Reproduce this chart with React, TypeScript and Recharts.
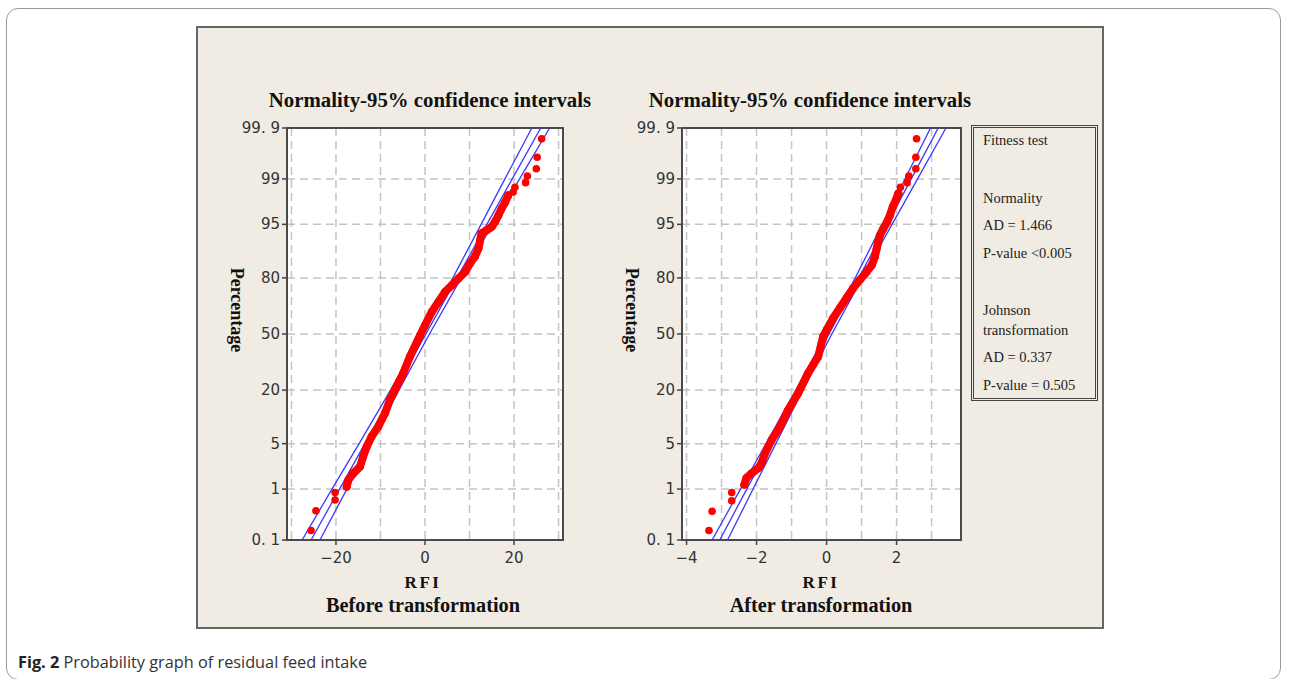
import {
  CartesianGrid,
  ReferenceArea,
  Scatter,
  ScatterChart,
  XAxis,
  YAxis,
} from "recharts";

// probability axis (percent)
const probTicks = [0.1, 1, 5, 20, 50, 80, 95, 99, 99.9];

// x axis grid / labels
const beforeGrid = [-30, -20, -10, 0, 10, 20, 30];
const beforeLabels = [-20, 0, 20];
const afterGrid = [-4, -3, -2, -1, 0, 1, 2, 3];
const afterLabels = [-4, -2, 0, 2];

const beforeRfi = [
  -25.6, -24.5, -20.2, -20.2, -17.6, -17.2, -16.1, -14.6, -13.9, -13.1, -12.0,
  -10.5, -9.0, -7.9, -6.4, -4.9, -3.4, -1.1, 0.0, 1.5, 3.0, 4.5, 6.0, 7.5, 9.0,
  10.1, 11.2, 12.0, 12.4, 12.7, 13.9, 15.0, 15.7, 16.5, 17.2, 18.0, 18.7, 19.8,
  20.2, 22.6, 23.0, 25.0, 25.2, 26.2,
];
const beforePct = [
  0.16, 0.4, 0.64, 0.87, 1.1, 1.43, 1.83, 2.33, 3.29, 4.55, 6.2, 8.2, 11.7, 16.1,
  21.5, 27.8, 36.7, 49.2, 55.2, 62.9, 68.4, 73.6, 76.7, 79.7, 82.4, 85.5, 87.7,
  89.97, 92.07, 93.45, 94.06, 94.6, 95.35, 96.25, 97.0, 97.6, 98.12, 98.34,
  98.61, 98.84, 99.11, 99.34, 99.6, 99.83,
];

const afterRfi = [
  -3.36, -3.27, -2.71, -2.71, -2.35, -2.29, -2.14, -1.95, -1.86, -1.76, -1.57,
  -1.33, -1.1, -0.81, -0.53, -0.24, -0.1, 0.0, 0.19, 0.38, 0.57, 0.76, 0.95,
  1.14, 1.29, 1.38, 1.43, 1.47, 1.52, 1.62, 1.73, 1.81, 1.89, 1.98, 2.05, 2.11,
  2.3, 2.35, 2.55, 2.55, 2.57,
];
const afterPct = [
  0.16, 0.39, 0.62, 0.87, 1.19, 1.54, 1.83, 2.22, 2.62, 3.67, 5.6, 8.2, 12.7,
  18.7, 27.8, 36.7, 48.4, 52.4, 59.5, 65.2, 70.5, 75.5, 79.1, 82.4, 84.85, 87.7,
  89.97, 91.6, 93.0, 94.3, 95.35, 96.25, 97.19, 97.78, 98.26, 98.61, 98.84,
  99.11, 99.34, 99.6, 99.83,
];

// fitted line and 95% band, read at each probTicks level
const beforeFit = [-25.6, -19.2, -13.5, -6.8, 0.2, 7.2, 13.9, 19.6, 26.0];
const beforeLow = [-27.6, -20.9, -14.8, -7.75, -0.6, 6.25, 12.6, 17.95, 24.0];
const beforeHigh = [-23.6, -17.55, -12.2, -5.85, 1.0, 8.15, 15.2, 21.25, 28.0];

const afterFit = [-3.05, -2.28, -1.59, -0.78, 0.07, 0.92, 1.73, 2.42, 3.19];
const afterLow = [-3.27, -2.46, -1.73, -0.88, -0.01, 0.82, 1.59, 2.24, 2.97];
const afterHigh = [-2.83, -2.1, -1.45, -0.68, 0.15, 1.02, 1.87, 2.6, 3.41];

const BLUE = "#3a3aff";
const RED = "#ff0000";
const SERIF = '"Liberation Serif", "Times New Roman", serif';
const TICK_FONT = '"DejaVu Sans", sans-serif';
const BG = "#f0ece3";

// inverse normal cdf (Acklam) - turns percent into the probit axis position
function probit(p: number) {
  const a = [-39.69683028665376, 220.9460984245205, -275.9285104469687, 138.357751867269, -30.66479806614716, 2.506628277459239];
  const b = [-54.47609879822406, 161.5858368580409, -155.6989798598866, 66.80131188771972, -13.28068155288572];
  const c = [-0.007784894002430293, -0.3223964580411365, -2.400758277161838, -2.549671010013197, 4.374664141464968, 2.938163982698783];
  const d = [0.007784695709041462, 0.3224671290700398, 2.445134137142996, 3.754408661907416];
  const pl = 0.02425;
  if (p < pl) {
    const q = Math.sqrt(-2 * Math.log(p));
    return (((((c[0] * q + c[1]) * q + c[2]) * q + c[3]) * q + c[4]) * q + c[5]) /
      ((((d[0] * q + d[1]) * q + d[2]) * q + d[3]) * q + 1);
  }
  if (p > 1 - pl) {
    const q = Math.sqrt(-2 * Math.log(1 - p));
    return -(((((c[0] * q + c[1]) * q + c[2]) * q + c[3]) * q + c[4]) * q + c[5]) /
      ((((d[0] * q + d[1]) * q + d[2]) * q + d[3]) * q + 1);
  }
  const q = p - 0.5;
  const r = q * q;
  return ((((((a[0] * r + a[1]) * r + a[2]) * r + a[3]) * r + a[4]) * r + a[5]) * q) /
    (((((b[0] * r + b[1]) * r + b[2]) * r + b[3]) * r + b[4]) * r + 1);
}

const Z_MIN = probit(probTicks[0] / 100);
const Z_MAX = probit(probTicks[probTicks.length - 1] / 100);
const yTicks = probTicks.map((p) => probit(p / 100));

// chart geometry
const Y_W = 60;
const X_H = 40;
const M_TOP = 10;
const PLOT_H = 412;
const CHART_H = M_TOP + PLOT_H + X_H;

const noDot = () => <g />;
const dot = (props: any) => <circle cx={props.cx} cy={props.cy} r={3.8} fill={RED} />;

interface ProbPlotProps {
  left: number;
  top: number;
  plotW: number;
  domain: [number, number];
  grid: number[];
  labels: number[];
  rfi: number[];
  pct: number[];
  fit: number[];
  low: number[];
  high: number[];
}

const ProbPlot = ({ left, top, plotW, domain, grid, labels, rfi, pct, fit, low, high }: ProbPlotProps) => {
  const pts = rfi.map((x, i) => ({ x, y: probit(pct[i] / 100), pct: pct[i] }));
  const core = pts.filter((p) => p.pct > 1 && p.pct < 98.3);
  const lineOf = (xs: number[]) => xs.map((x, i) => ({ x, y: yTicks[i] }));
  const bottom = M_TOP + PLOT_H;

  const XTick = (props: any) => {
    const { x, payload } = props;
    if (!labels.includes(payload.value)) return <g />;
    return (
      <g>
        <line x1={x} x2={x} y1={bottom} y2={bottom + 5} stroke="#444" strokeWidth={1.5} />
        <text x={x} y={bottom + 23} textAnchor="middle" fontFamily={TICK_FONT} fontSize={15} fill="#333">
          {payload.value < 0 ? "\u2212" + Math.abs(payload.value) : payload.value}
        </text>
      </g>
    );
  };

  const YTick = (props: any) => {
    const { y, index } = props;
    const label = String(probTicks[index]).replace(".", ". ");
    return (
      <g>
        <line x1={Y_W - 5} x2={Y_W} y1={y} y2={y} stroke="#444" strokeWidth={1.5} />
        <text x={Y_W - 7} y={y + 5} textAnchor="end" fontFamily={TICK_FONT} fontSize={15} fill="#333">
          {label}
        </text>
      </g>
    );
  };

  return (
    <div style={{ position: "absolute", left, top }}>
      <ScatterChart
        width={Y_W + plotW + 10}
        height={CHART_H}
        margin={{ top: M_TOP, right: 10, bottom: 0, left: 0 }}
      >
        <CartesianGrid fill="#ffffff" stroke="#c4c4c4" strokeDasharray="8 5" strokeWidth={1.5} />
        <XAxis
          type="number"
          dataKey="x"
          domain={domain}
          ticks={grid}
          allowDataOverflow
          height={X_H}
          axisLine={false}
          tickLine={false}
          tick={XTick}
        />
        <YAxis
          type="number"
          dataKey="y"
          domain={[Z_MIN, Z_MAX]}
          ticks={yTicks}
          allowDataOverflow
          width={Y_W}
          axisLine={false}
          tickLine={false}
          tick={YTick}
        />
        <ReferenceArea
          x1={domain[0]}
          x2={domain[1]}
          y1={Z_MIN}
          y2={Z_MAX}
          fill="none"
          stroke="#4a4a4a"
          strokeWidth={2}
          ifOverflow="visible"
        />
        <Scatter data={lineOf(low)} line={{ stroke: BLUE, strokeWidth: 1.3 }} shape={noDot} isAnimationActive={false} />
        <Scatter data={lineOf(fit)} line={{ stroke: BLUE, strokeWidth: 1.3 }} shape={noDot} isAnimationActive={false} />
        <Scatter data={lineOf(high)} line={{ stroke: BLUE, strokeWidth: 1.3 }} shape={noDot} isAnimationActive={false} />
        <Scatter
          data={core}
          line={{ stroke: RED, strokeWidth: 8, strokeLinejoin: "round", strokeLinecap: "round" }}
          shape={dot}
          isAnimationActive={false}
        />
        <Scatter data={pts} shape={dot} isAnimationActive={false} />
      </ScatterChart>
    </div>
  );
};

const abs = (l: number, t: number, extra: any = {}) => ({ position: "absolute" as const, left: l, top: t, ...extra });

const Title = ({ cx, text }: { cx: number; text: string }) => (
  <div style={abs(cx - 200, 88, { width: 400, textAlign: "center", fontFamily: SERIF, fontWeight: 700, fontSize: 20.8, lineHeight: "24px", color: "#111" })}>
    {text}
  </div>
);

const YLabel = ({ cx }: { cx: number }) => (
  <div
    style={abs(cx - 60, 299, {
      width: 120,
      height: 22,
      textAlign: "center",
      fontFamily: SERIF,
      fontWeight: 700,
      fontSize: 18,
      lineHeight: "22px",
      color: "#111",
      transform: "rotate(90deg)",
    })}
  >
    Percentage
  </div>
);

const XLabel = ({ cx, sub }: { cx: number; sub: string }) => (
  <>
    <div style={abs(cx - 50, 572, { width: 100, textAlign: "center", fontFamily: SERIF, fontWeight: 700, fontSize: 17, lineHeight: "22px", letterSpacing: 2.5, color: "#111" })}>
      RFI
    </div>
    <div style={abs(cx - 150, 593, { width: 300, textAlign: "center", fontFamily: SERIF, fontWeight: 700, fontSize: 20.3, lineHeight: "24px", color: "#111" })}>
      {sub}
    </div>
  </>
);

const legendLines: [string, number][] = [
  ["Fitness test", 140],
  ["Normality", 198],
  ["AD = 1.466", 225],
  ["P-value <0.005", 253],
  ["Johnson", 310],
  ["transformation", 330],
  ["AD = 0.337", 357],
  ["P-value = 0.505", 385],
];

export default function App() {
  return (
    <div style={abs(0, 0, { width: 1289, height: 679, background: "#fff" })}>
      <div style={abs(6, 8, { width: 1275, height: 672, border: "1px solid #9a9a9a", borderRadius: 12, boxSizing: "border-box" })} />
      <div style={abs(196, 26, { width: 908, height: 603, background: BG, border: "2px solid #666", boxSizing: "border-box" })} />

      <Title cx={430} text="Normality-95% confidence intervals" />
      <Title cx={810} text="Normality-95% confidence intervals" />
      <YLabel cx={237} />
      <YLabel cx={632} />

      <ProbPlot
        left={227}
        top={118}
        plotW={276}
        domain={[-31, 31]}
        grid={beforeGrid}
        labels={beforeLabels}
        rfi={beforeRfi}
        pct={beforePct}
        fit={beforeFit}
        low={beforeLow}
        high={beforeHigh}
      />
      <ProbPlot
        left={622}
        top={118}
        plotW={279}
        domain={[-4.13, 3.84]}
        grid={afterGrid}
        labels={afterLabels}
        rfi={afterRfi}
        pct={afterPct}
        fit={afterFit}
        low={afterLow}
        high={afterHigh}
      />

      <XLabel cx={423} sub="Before transformation" />
      <XLabel cx={821} sub="After transformation" />

      <div style={abs(971, 125, { width: 127, height: 276, border: "3px double #444", boxSizing: "border-box" })} />
      {legendLines.map(([t, cy]) => (
        <div key={t} style={abs(983, cy - 9, { fontFamily: SERIF, fontSize: 14.5, lineHeight: "18px", color: "#222", whiteSpace: "nowrap" })}>
          {t}
        </div>
      ))}

      <div style={abs(18, 651, { fontFamily: '"Open Sans", sans-serif', fontSize: 16.3, lineHeight: "22px", color: "#333", whiteSpace: "nowrap" })}>
        <b style={{ color: "#222" }}>Fig. 2</b> Probability graph of residual feed intake
      </div>
    </div>
  );
}
